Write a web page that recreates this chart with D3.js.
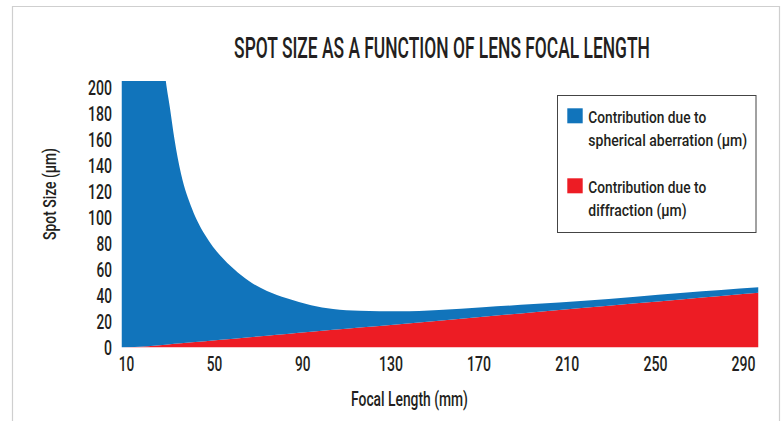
<!DOCTYPE html>
<html>
<head>
<meta charset="utf-8">
<script src="https://cdn.jsdelivr.net/npm/d3@7"></script>
<style>
  html, body { margin: 0; padding: 0; background: #fff; }
  svg text { font-family: Roboto, "Liberation Sans", sans-serif; font-weight: 500; fill: #231f20; }
</style>
</head>
<body>
<svg id="chart" width="784" height="421"></svg>
<script>
// values (total clipped above ~205)
const focalLength = [8, 20, 28, 30, 32, 35, 40, 46, 53, 59, 66, 74, 83, 94, 104, 116, 134, 152, 172, 195, 218, 240, 263, 280, 297];
const spherical   = [2500, 399, 204.8, 182, 158.2, 130.7, 103, 81.6, 64.6, 53.7, 43.1, 34.4, 27.5, 20.5, 16.1, 13.0, 9.9, 8.2, 7.3, 6.3, 5.5, 5.1, 5.0, 4.5, 4.1];
const diffraction = [0, 1.0, 2.2, 2.5, 2.8, 3.3, 4.0, 4.9, 5.9, 6.8, 7.9, 9.1, 10.4, 12.1, 13.6, 15.4, 18.0, 20.7, 23.7, 27.2, 30.6, 33.9, 37.3, 39.8, 42.3];
const xTicks = [10, 50, 90, 130, 170, 210, 250, 290];
const yTicks = [0, 20, 40, 60, 80, 100, 120, 140, 160, 180, 200];
const legendItems = [
  { key: "spherical", color: "#1174bb", lines: ["Contribution due to", "spherical aberration (\u00b5m)"] },
  { key: "diffraction", color: "#ed1c24", lines: ["Contribution due to", "diffraction (\u00b5m)"] }
];

const svg = d3.select("#chart");
const H = 421;
const plot = { left: 121.5, right: 758.5, top: 81, bottom: 347.5 };

// outer frame (open at the bottom)
svg.append("path")
  .attr("d", `M12.5,${H} V6.5 H779.5 V${H}`)
  .attr("fill", "none").attr("stroke", "#cfcfcf").attr("stroke-width", 1.2);

const x = d3.scaleLinear().domain([8, 297]).range([plot.left, plot.right]);
const y = d3.scaleLinear().domain([0, 205.5]).range([plot.bottom, plot.top]);

const rows = focalLength.map((f, i) => ({ f, spherical: spherical[i], diffraction: diffraction[i] }));
const series = d3.stack().keys(["diffraction", "spherical"])(rows);
const colors = { spherical: "#1174bb", diffraction: "#ed1c24" };

svg.append("clipPath").attr("id", "clip")
  .append("rect")
  .attr("x", plot.left).attr("y", plot.top)
  .attr("width", plot.right - plot.left).attr("height", plot.bottom - plot.top);

const area = d3.area()
  .curve(d3.curveMonotoneX)
  .x(d => x(d.data.f))
  .y0(d => y(d[0]))
  .y1(d => y(d[1]));

svg.append("g").attr("clip-path", "url(#clip)")
  .selectAll("path")
  .data(series)
  .join("path")
  .attr("fill", d => colors[d.key])
  .attr("d", area);

// axes (labels only)
const digitW = { 1: 8, 2: 15.5, 3: 24 };
const yAxis = svg.append("g")
  .attr("transform", `translate(${plot.left},0)`)
  .call(d3.axisLeft(y).tickValues(yTicks).tickSize(0).tickPadding(9.5));
yAxis.select(".domain").remove();
yAxis.selectAll("text")
  .attr("font-size", 19.5).attr("dy", "0.34em")
  .attr("textLength", d => digitW[String(d).length])
  .attr("lengthAdjust", "spacingAndGlyphs");

const xAxis = svg.append("g")
  .attr("transform", `translate(0,${plot.bottom})`)
  .call(d3.axisBottom(x).tickValues(xTicks).tickSize(0).tickPadding(10));
xAxis.select(".domain").remove();
xAxis.selectAll("text")
  .attr("font-size", 19.5).attr("dy", "0.71em")
  .attr("textLength", d => digitW[String(d).length])
  .attr("lengthAdjust", "spacingAndGlyphs");

svg.selectAll(".tick text").attr("font-family", null);

// condensed text: draw at natural width, then squeeze horizontally to the target width
function squeezed(parent, str, px, py, width, size, anchor, rot) {
  const g = parent.append("g");
  const t = g.append("text").attr("font-size", size).attr("text-anchor", anchor).text(str);
  const s = width / t.node().getComputedTextLength();
  g.attr("transform", `translate(${px},${py}) rotate(${rot || 0}) scale(${s},1)`);
  return t;
}

squeezed(svg, "SPOT SIZE AS A FUNCTION OF LENS FOCAL LENGTH", 442, 57.5, 416, 29, "middle");
squeezed(svg, "Focal Length (mm)", 409.5, 405.5, 117, 20, "middle");
squeezed(svg, "Spot Size (\u00b5m)", 55.5, 194, 92, 19, "middle", -90);

// legend
const legend = svg.append("g");
legend.append("rect")
  .attr("x", 557.5).attr("y", 95.5).attr("width", 198.5).attr("height", 137)
  .attr("fill", "#fff").attr("stroke", "#444").attr("stroke-width", 1);

const lineWidths = [[118, 159], [118, 98.5]];
legendItems.forEach((item, i) => {
  const top = 108.3 + i * 70;
  legend.append("rect")
    .attr("x", 567.3).attr("y", top).attr("width", 15.4).attr("height", 15)
    .attr("fill", item.color);
  item.lines.forEach((ln, j) => {
    squeezed(legend, ln, 588.3, top + 14.4 + j * 23.2, lineWidths[i][j], 17, "start");
  });
});
</script>
</body>
</html>
